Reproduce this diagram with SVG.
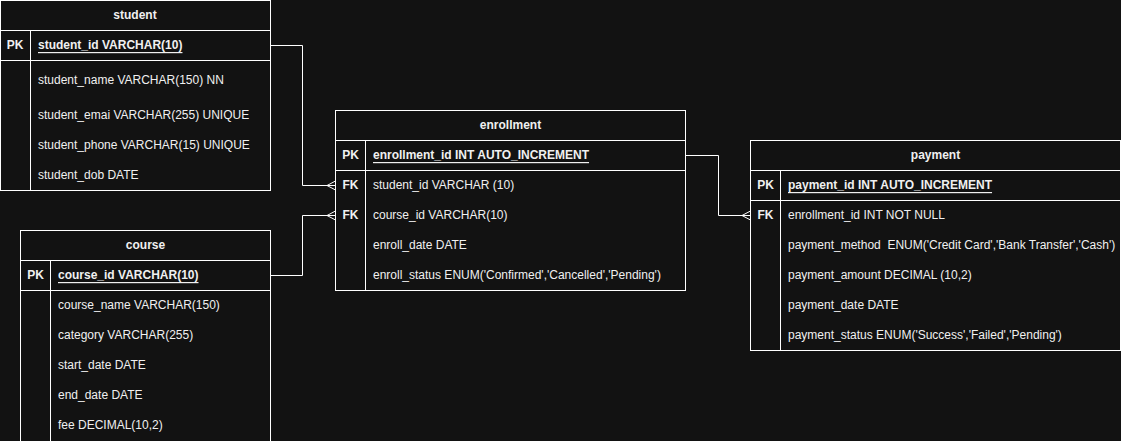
<svg xmlns="http://www.w3.org/2000/svg" width="1121" height="441" viewBox="0 0 1121 441">
<style>
.box{fill:#121212;stroke:#ffffff;stroke-width:1}
.ln{stroke:#ffffff;stroke-width:1;fill:none}
text{font-family:"Liberation Sans",Arial,sans-serif;font-size:12px;fill:#f0f0f0;dominant-baseline:central;white-space:pre}
.h{font-weight:bold;text-anchor:middle}
.k{font-weight:bold;text-anchor:middle}
.pk{font-weight:bold;text-decoration:underline}
</style>
<rect x="0" y="0" width="1121" height="441" fill="#121212"/>
<g id="connectors">
<path class="ln" d="M270.5,45.5 H302.5 V185.5 H335.5"/>
<path class="ln" d="M327,185.5 L335.5,181 M327,185.5 L335.5,190"/>
<path class="ln" d="M270.5,275.5 H302.5 V215.5 H335.5"/>
<path class="ln" d="M327,215.5 L335.5,211 M327,215.5 L335.5,220"/>
<path class="ln" d="M685.5,155.5 H718.5 V215.5 H750.5"/>
<path class="ln" d="M742,215.5 L750.5,211 M742,215.5 L750.5,220"/>
</g>
<g id="student">
<rect class="box" x="0.5" y="0.5" width="270" height="190"/>
<path class="ln" d="M0.5,30.5 H270.5 M0.5,60.5 H270.5 M30.5,30.5 V190.5"/>
<text class="h" x="135" y="15">student</text>
<text class="k" x="15" y="45">PK</text>
<text class="pk" x="38" y="45">student_id VARCHAR(10)</text>
<text x="38" y="80">student_name VARCHAR(150) NN</text>
<text x="38" y="115">student_emai VARCHAR(255) UNIQUE</text>
<text x="38" y="145">student_phone VARCHAR(15) UNIQUE</text>
<text x="38" y="175">student_dob DATE</text>
</g>
<g id="course">
<rect class="box" x="20.5" y="230.5" width="250" height="215"/>
<path class="ln" d="M20.5,260.5 H270.5 M20.5,290.5 H270.5 M50.5,260.5 V445"/>
<text class="h" x="145.5" y="245">course</text>
<text class="k" x="35.5" y="275">PK</text>
<text class="pk" x="58" y="275">course_id VARCHAR(10)</text>
<text x="58" y="305">course_name VARCHAR(150)</text>
<text x="58" y="335">category VARCHAR(255)</text>
<text x="58" y="365">start_date DATE</text>
<text x="58" y="395">end_date DATE</text>
<text x="58" y="425">fee DECIMAL(10,2)</text>
</g>
<g id="enrollment">
<rect class="box" x="335.5" y="110.5" width="350" height="180"/>
<path class="ln" d="M335.5,140.5 H685.5 M335.5,170.5 H685.5 M365.5,140.5 V290.5"/>
<text class="h" x="510.5" y="125">enrollment</text>
<text class="k" x="350.5" y="155">PK</text>
<text class="pk" x="373" y="155">enrollment_id INT AUTO_INCREMENT</text>
<text class="k" x="350.5" y="185">FK</text>
<text x="373" y="185">student_id VARCHAR (10)</text>
<text class="k" x="350.5" y="215">FK</text>
<text x="373" y="215">course_id VARCHAR(10)</text>
<text x="373" y="245">enroll_date DATE</text>
<text x="373" y="275">enroll_status ENUM('Confirmed','Cancelled','Pending')</text>
</g>
<g id="payment">
<rect class="box" x="750.5" y="140.5" width="370" height="210"/>
<path class="ln" d="M750.5,170.5 H1120.5 M750.5,200.5 H1120.5 M780.5,170.5 V350.5"/>
<text class="h" x="935.5" y="155">payment</text>
<text class="k" x="765.5" y="185">PK</text>
<text class="pk" x="788" y="185">payment_id INT AUTO_INCREMENT</text>
<text class="k" x="765.5" y="215">FK</text>
<text x="788" y="215">enrollment_id INT NOT NULL</text>
<text x="788" y="245" xml:space="preserve">payment_method  ENUM('Credit Card','Bank Transfer','Cash')</text>
<text x="788" y="275">payment_amount DECIMAL (10,2)</text>
<text x="788" y="305">payment_date DATE</text>
<text x="788" y="335">payment_status ENUM('Success','Failed','Pending')</text>
</g>
</svg>
